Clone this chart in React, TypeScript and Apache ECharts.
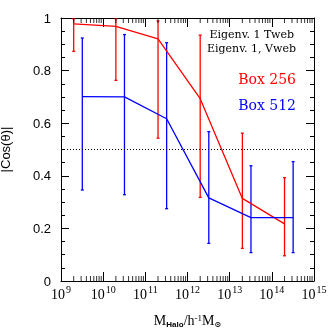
import React, { useEffect, useRef } from "react";
import * as echarts from "echarts";

const redX = [2e9, 2e10, 2e11, 2e12, 2e13, 2e14];
const redY = [0.978, 0.968, 0.921, 0.693, 0.314, 0.217];
const redLow = [0.873, 0.763, 0.543, 0.318, 0.124, 0.096];
const redHigh = [0.997, 0.997, 0.989, 0.935, 0.562, 0.393];

const blueX = [3.2e9, 3.2e10, 3.2e11, 3.2e12, 3.2e13, 3.2e14];
const blueY = [0.701, 0.7, 0.617, 0.316, 0.241, 0.241];
const blueLow = [0.346, 0.328, 0.275, 0.143, 0.108, 0.108];
const blueHigh = [0.924, 0.937, 0.906, 0.568, 0.438, 0.454];

const decades = [9, 10, 11, 12, 13, 14];
const minorMultipliers = [2, 3, 4, 5, 6, 7, 8, 9];
const refLevel = 0.5;
const yMin = 0;
const yMax = 1;

const RED = "#ff0000";
const BLUE = "#0000ff";
const SERIF = "'DejaVu Serif', 'Liberation Serif', serif";
const TSERIF = "'Liberation Serif', 'DejaVu Serif', serif";
const SANS = "'Liberation Sans', 'DejaVu Sans', sans-serif";

const minorX: number[] = [];
decades.forEach((d) => minorMultipliers.forEach((k) => minorX.push(k * Math.pow(10, d))));

function errorBarItem(color: string) {
  return (params: any, api: any) => {
    const x = api.value(0);
    const lo = api.coord([x, api.value(1)]);
    const hi = api.coord([x, api.value(2)]);
    const cap = 1.5;
    const style = { stroke: color, lineWidth: 1.3 };
    return {
      type: "group",
      children: [
        { type: "line", shape: { x1: lo[0], y1: lo[1], x2: hi[0], y2: hi[1] }, style },
        { type: "line", shape: { x1: lo[0] - cap, y1: lo[1], x2: lo[0] + cap, y2: lo[1] }, style },
        { type: "line", shape: { x1: hi[0] - cap, y1: hi[1], x2: hi[0] + cap, y2: hi[1] }, style },
      ],
    };
  };
}

export default function App() {
  const ref = useRef<HTMLDivElement>(null);
  useEffect(() => {
    if (!ref.current) return;
    const chart = echarts.init(ref.current, null, { renderer: "svg" });
    const xLabel = {
      show: true,
      margin: 4,
      fontFamily: TSERIF,
      color: "#000",
      formatter: (v: number) => `{b|10}{s|${Math.round(Math.log10(v))}}`,
      rich: {
        b: { fontFamily: TSERIF, fontSize: 14, color: "#000", verticalAlign: "bottom", lineHeight: 16 },
        s: { fontFamily: TSERIF, fontSize: 10, color: "#000", verticalAlign: "bottom", padding: [0, 0, 7, 1], lineHeight: 16 },
      },
    };
    const xCommon = {
      type: "log",
      logBase: 10,
      min: 1e9,
      max: 1e15,
      axisLine: { show: true, onZero: false, lineStyle: { color: "#000", width: 1 } },
      axisTick: { show: true, inside: true, length: 9, lineStyle: { color: "#000" } },
      splitLine: { show: false },
    };
    const yCommon = {
      type: "value",
      min: yMin,
      max: yMax,
      interval: 0.2,
      axisLine: { show: true, onZero: false, lineStyle: { color: "#000", width: 1 } },
      axisTick: { show: true, inside: true, length: 8, lineStyle: { color: "#000" } },
      minorTick: { show: true, splitNumber: 4, length: 4, lineStyle: { color: "#000" } },
      splitLine: { show: false },
    };
    const minorTickSeries = (yv: number, offset: number) => ({
      type: "scatter",
      name: "minor ticks",
      silent: true,
      clip: false,
      symbol: "rect",
      symbolSize: [1, 5],
      symbolOffset: [0, offset],
      itemStyle: { color: "#000" },
      data: minorX.map((x) => [x, yv]),
      z: 5,
    });
    chart.setOption({
      animation: false,
      grid: { left: 61, right: 18, top: 18, bottom: 51, containLabel: false, outerBoundsMode: "none" },
      xAxis: [
        {
          ...xCommon,
          position: "bottom",
          axisLabel: xLabel,
          name: "M{sub|Halo}/h{sup|-1}M{sub|⊙}",
          nameLocation: "middle",
          nameGap: 32,
          nameTextStyle: {
            fontFamily: TSERIF,
            fontSize: 14,
            color: "#000",
            rich: {
              sub: { fontFamily: SANS, fontSize: 8, fontWeight: "bold", color: "#000", verticalAlign: "top", padding: [7, 0, 0, 0] },
              sup: { fontFamily: TSERIF, fontSize: 9, color: "#000", verticalAlign: "bottom", padding: [0, 0, 6, 0] },
            },
          },
        },
        { ...xCommon, position: "top", axisLabel: { show: false } },
      ],
      yAxis: [
        {
          ...yCommon,
          position: "left",
          axisLabel: {
            show: true,
            margin: 10,
            fontFamily: SANS,
            fontSize: 13,
            color: "#000",
            formatter: (v: number) => (v === 0 || v === 1 ? String(v) : v.toFixed(1)),
          },
          name: "|Cos(θ)|",
          nameLocation: "middle",
          nameGap: 49,
          nameRotate: 90,
          nameTextStyle: { fontFamily: SANS, fontSize: 13, color: "#000" },
        },
        { ...yCommon, position: "right", axisLabel: { show: false } },
      ],
      series: [
        {
          type: "line",
          name: "Box 256",
          data: redX.map((x, i) => [x, redY[i]]),
          symbol: "none",
          lineStyle: { color: RED, width: 1.3 },
          markLine: {
            silent: true,
            symbol: "none",
            label: { show: false },
            lineStyle: { color: "#000", type: [1, 2], width: 1 },
            data: [{ yAxis: refLevel }],
          },
        },
        {
          type: "line",
          name: "Box 512",
          data: blueX.map((x, i) => [x, blueY[i]]),
          symbol: "none",
          lineStyle: { color: BLUE, width: 1.3 },
        },
        {
          type: "custom",
          name: "Box 256 err",
          data: redX.map((x, i) => [x, redLow[i], redHigh[i]]),
          encode: { x: 0, y: [1, 2] },
          renderItem: errorBarItem(RED),
        },
        {
          type: "custom",
          name: "Box 512 err",
          data: blueX.map((x, i) => [x, blueLow[i], blueHigh[i]]),
          encode: { x: 0, y: [1, 2] },
          renderItem: errorBarItem(BLUE),
        },
        minorTickSeries(yMin, -2.5),
        minorTickSeries(yMax, 2.5),
      ],
      graphic: [
        { type: "text", right: 38, top: 29, style: { text: "Eigenv. 1 Tweb", font: `11px ${SERIF}`, fill: "#000" } },
        { type: "text", right: 36, top: 43, style: { text: "Eigenv. 1, Vweb", font: `11px ${SERIF}`, fill: "#000" } },
        { type: "text", right: 36, top: 72, style: { text: "Box 256", font: `14px ${SERIF}`, fill: RED } },
        { type: "text", right: 36, top: 98, style: { text: "Box 512", font: `14px ${SERIF}`, fill: BLUE } },
      ],
    });
    return () => chart.dispose();
  }, []);
  return <div ref={ref} style={{ position: "fixed", left: 0, top: 0, width: 332, height: 332 }} />;
}
